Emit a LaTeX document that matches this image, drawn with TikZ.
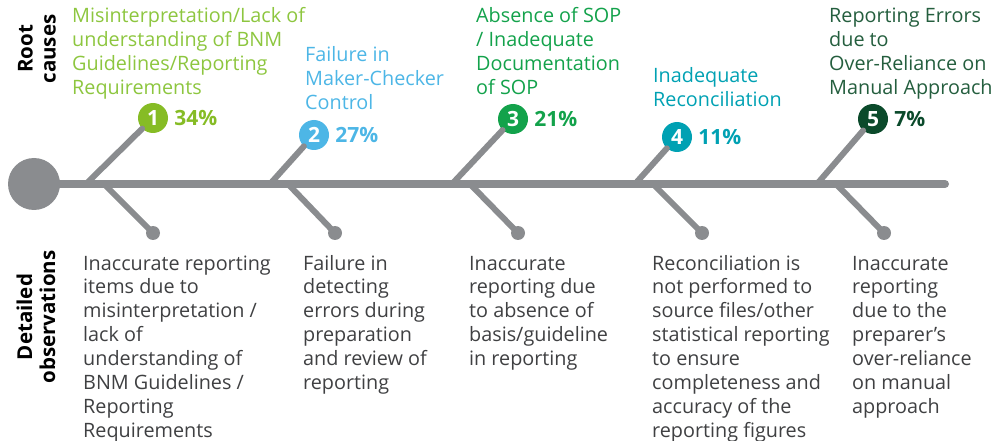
\documentclass[tikz,border=0pt]{standalone}
\usepackage{fontspec}
\setmainfont{Open Sans}
\definecolor{bone}{HTML}{8A8C8F}
\definecolor{cA}{HTML}{86BC25}
\definecolor{cAt}{HTML}{8DC63F}
\definecolor{cB}{HTML}{4DB6E6}
\definecolor{cC}{HTML}{13A24B}
\definecolor{cD}{HTML}{00A1B3}
\definecolor{cE}{HTML}{0B4A2B}
\definecolor{cEt}{HTML}{245E3E}
\definecolor{obs}{HTML}{3F4042}
\begin{document}
\begin{tikzpicture}[x=1pt,y=-1pt,
  spine/.style={draw=bone,line width=8pt,line cap=round},
  rib/.style={draw=bone,line width=6pt,line cap=round},
  numdot/.style={circle,minimum size=30pt,inner sep=0pt,text=white,
    font=\fontsize{21}{22}\selectfont\bfseries},
  enddot/.style={circle,fill=bone,minimum size=14pt,inner sep=0pt},
  pct/.style={anchor=west,inner sep=0pt,xshift=6pt,
    font=\fontsize{21}{22}\selectfont\bfseries},
  cause/.style={anchor=base west,inner sep=0pt,align=left,
    font=\fontsize{19.8}{24}\selectfont},
  detail/.style={anchor=base west,inner sep=0pt,align=left,text=obs,
    font=\fontsize{19.8}{23.9}\selectfont},
  side/.style={rotate=90,align=center,inner sep=0pt,
    font=\fontsize{20.5}{23}\selectfont\bfseries}]
\useasboundingbox (0,0) rectangle (997,441);

% spine and head
\node[circle,fill=bone,minimum size=52pt,inner sep=0pt] (head) at (34,184) {};
\coordinate (tail) at (945,184);
\draw[spine] (head.center) -- (tail);

% points where the ribs leave the spine
\coordinate (u1) at (86,184);  \coordinate (l1) at (104,184);
\coordinate (u2) at (270,184); \coordinate (l2) at (288,184);
\coordinate (u3) at (452,184); \coordinate (l3) at (470,184);
\coordinate (u4) at (635,184); \coordinate (l4) at (653,184);
\coordinate (u5) at (817,184); \coordinate (l5) at (836,184);

% lower ribs ending in dots
\foreach \i/\x in {1/153,2/335,3/518,4/702,5/884}{
  \node[enddot] (d\i) at (\x,233) {};
  \draw[rib] (l\i) -- (d\i.center);
}

% numbered circles and upper ribs
\node[numdot,fill=cA] (n1) at (153,118) {1};
\node[numdot,fill=cB] (n2) at (314,135) {2};
\node[numdot,fill=cC] (n3) at (513,119) {3};
\node[numdot,fill=cD] (n4) at (677,137) {4};
\node[numdot,fill=cE] (n5) at (873,119) {5};
\foreach \i in {1,...,5}{
  \draw[rib] (u\i) -- (n\i);
}

% percentages
\node[pct,text=cA] (p1) at (n1.east) {34\%};
\node[pct,text=cB] (p2) at (n2.east) {27\%};
\node[pct,text=cC] (p3) at (n3.east) {21\%};
\node[pct,text=cD] (p4) at (n4.east) {11\%};
\node[pct,text=cE] (p5) at (n5.east) {7\%};

% root causes (placed at the baseline of their last line)
\node[cause,text=cAt] (t1) at (72,95) {Misinterpretation/Lack of\\understanding of BNM\\Guidelines/Reporting\\Requirements};
\node[cause,text=cB] (t2) at (305,110) {Failure in\\Maker-Checker\\Control};
\node[cause,text=cC] (t3) at (476,95) {Absence of SOP\\/ Inadequate\\Documentation\\of SOP};
\node[cause,text=cD] (t4) at (653,107) {Inadequate\\Reconciliation};
\node[cause,text=cEt] (t5) at (829,95) {Reporting Errors\\due to\\Over-Reliance on\\Manual Approach};

% detailed observations (placed at the baseline of their last line)
\node[detail] (o1) at (83,437.3) {Inaccurate reporting\\items due to\\misinterpretation /\\lack of\\understanding of\\BNM Guidelines /\\Reporting\\Requirements};
\node[detail] (o2) at (303,389.5) {Failure in\\detecting\\errors during\\preparation\\and review of\\reporting};
\node[detail] (o3) at (469,365.6) {Inaccurate\\reporting due\\to absence of\\basis/guideline\\in reporting};
\node[detail] (o4) at (652,437.3) {Reconciliation is\\not performed to\\source files/other\\statistical reporting\\to ensure\\completeness and\\accuracy of the\\reporting figures};
\node[detail] (o5) at (852,413.4) {Inaccurate\\reporting\\due to the\\preparer’s\\over-reliance\\on manual\\approach};

% side headings
\node[side] (rc) at (37,49) {Root\\causes};
\node[side] (dob) at (36,317) {Detailed\\observations};
\end{tikzpicture}
\end{document}
